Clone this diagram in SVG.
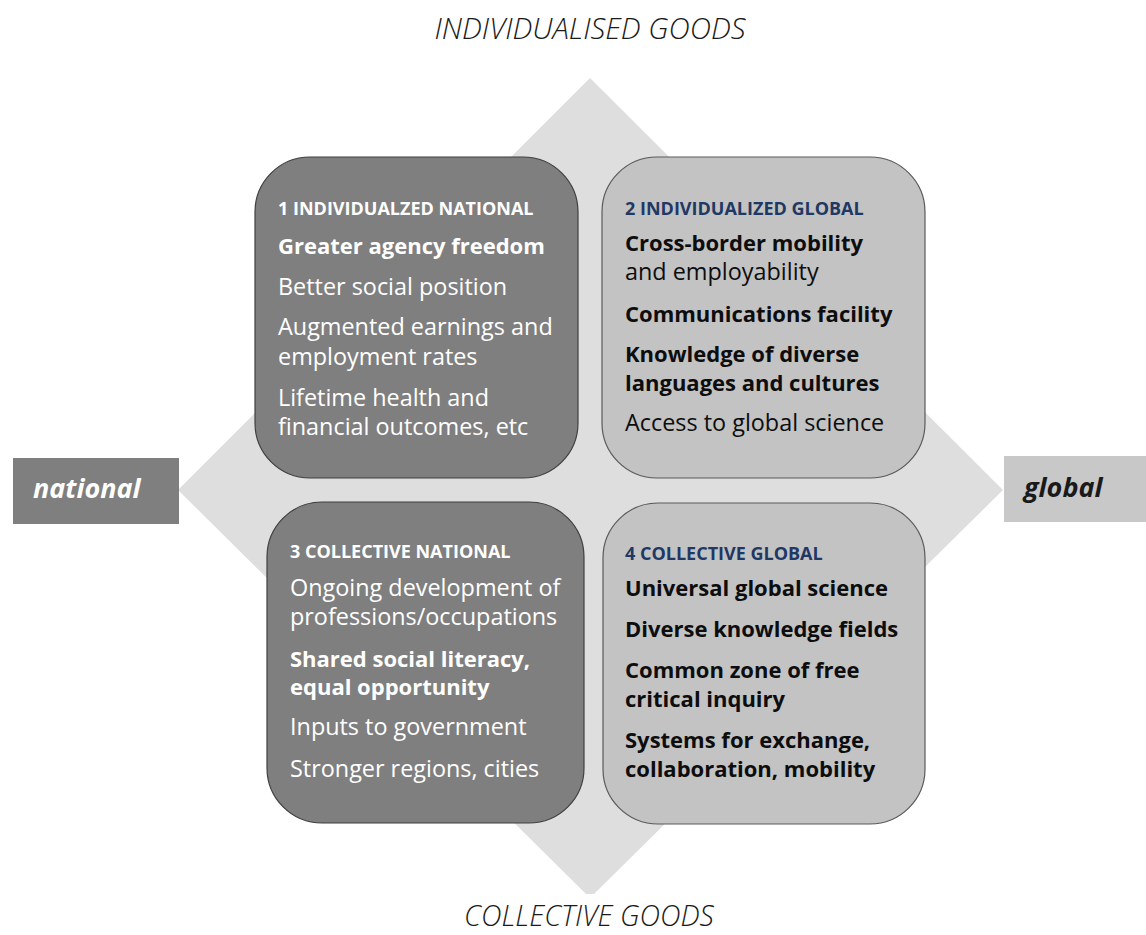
<svg xmlns="http://www.w3.org/2000/svg" width="1146" height="935" viewBox="0 0 1146 935">
  <style>
    .dark { fill: #7f7f7f; stroke: #3f3f3f; stroke-width: 1.2; }
    .light { fill: #c3c3c3; stroke: #5a5a5a; stroke-width: 1.2; }
    .t { font-family: "Open Sans", Lato, sans-serif; font-size: 23.4px; }
    .b { font-weight: bold; font-size: 22px; }
    .hd { font-family: "Open Sans", Lato, sans-serif; font-size: 18px; font-weight: bold; }
    .w { fill: #ffffff; }
    .k { fill: #0d0d0d; }
    .navy { fill: #1f3864; }
    .axis { font-family: "Open Sans", Lato, sans-serif; font-size: 29.5px; font-style: italic; font-weight: 300; fill: #1a1a1a; }
    .side { font-family: "Open Sans", Lato, sans-serif; font-size: 27px; font-style: italic; font-weight: bold; }
  </style>

  <!-- background diamond, tip cut off at the bottom -->
  <g id="diamond">
    <polygon points="590,78 1003,490 594,894 586,894 178,490" fill="#dedede"/>
  </g>

  <g id="title-top">
    <text class="axis" x="590" y="39" text-anchor="middle">INDIVIDUALISED GOODS</text>
  </g>
  <g id="title-bottom">
    <text class="axis" x="589" y="926" text-anchor="middle" style="font-size:28.5px">COLLECTIVE GOODS</text>
  </g>

  <g id="label-national">
    <rect x="13" y="458" width="166" height="66" fill="#7f7f7f"/>
    <text class="side w" x="33" y="498">national</text>
  </g>
  <g id="label-global">
    <rect x="1004" y="456" width="142" height="66" fill="#c8c8c8"/>
    <text class="side" x="1024" y="497" fill="#1a1a1a">global</text>
  </g>

  <g id="box1">
    <rect class="dark" x="255" y="157" width="323" height="321" rx="55" ry="55"/>
    <text class="hd w" x="278" y="215">1 INDIVIDUALZED NATIONAL</text>
    <text class="t b w" x="278" y="254">Greater agency freedom</text>
    <text class="t w" x="278" y="295">Better social position</text>
    <text class="t w" x="278" y="335">Augmented earnings and</text>
    <text class="t w" x="278" y="365">employment rates</text>
    <text class="t w" x="278" y="406">Lifetime health and</text>
    <text class="t w" x="278" y="435">financial outcomes, etc</text>
  </g>

  <g id="box2">
    <rect class="light" x="602" y="157" width="323" height="321" rx="55" ry="55"/>
    <text class="hd navy" x="625" y="215">2 INDIVIDUALIZED GLOBAL</text>
    <text class="t b k" x="625" y="251">Cross-border mobility</text>
    <text class="t k" x="625" y="280">and employability</text>
    <text class="t b k" x="625" y="322">Communications facility</text>
    <text class="t b k" x="625" y="362">Knowledge of diverse</text>
    <text class="t b k" x="625" y="391">languages and cultures</text>
    <text class="t k" x="625" y="431">Access to global science</text>
  </g>

  <g id="box3">
    <rect class="dark" x="267" y="502" width="317" height="321" rx="55" ry="55"/>
    <text class="hd w" x="290" y="558">3 COLLECTIVE NATIONAL</text>
    <text class="t w" x="290" y="596">Ongoing development of</text>
    <text class="t w" x="290" y="625">professions/occupations</text>
    <text class="t b w" x="290" y="667">Shared social literacy,</text>
    <text class="t b w" x="290" y="695">equal opportunity</text>
    <text class="t w" x="290" y="735">Inputs to government</text>
    <text class="t w" x="290" y="777">Stronger regions, cities</text>
  </g>

  <g id="box4">
    <rect class="light" x="603" y="503" width="322" height="321" rx="55" ry="55"/>
    <text class="hd navy" x="625" y="560">4 COLLECTIVE GLOBAL</text>
    <text class="t b k" x="625" y="596">Universal global science</text>
    <text class="t b k" x="625" y="637">Diverse knowledge fields</text>
    <text class="t b k" x="625" y="678">Common zone of free</text>
    <text class="t b k" x="625" y="707">critical inquiry</text>
    <text class="t b k" x="625" y="748">Systems for exchange,</text>
    <text class="t b k" x="625" y="777">collaboration, mobility</text>
  </g>
</svg>
